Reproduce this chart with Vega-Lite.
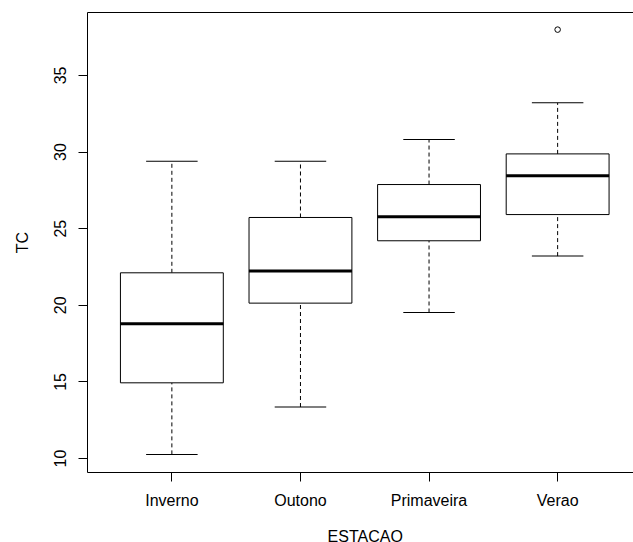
{
  "$schema": "https://vega.github.io/schema/vega-lite/v6.json",
  "width": 546,
  "height": 460,
  "autosize": {"type": "none"},
  "padding": {"left": 87, "top": 12, "right": 0, "bottom": 70},
  "background": "white",
  "config": {
    "view": {"stroke": null},
    "font": "Liberation Sans",
    "axis": {
      "grid": false,
      "domainColor": "black",
      "tickColor": "black",
      "labelColor": "black",
      "titleColor": "black",
      "labelFontSize": 16,
      "titleFontSize": 16,
      "titleFontWeight": "normal",
      "tickSize": 9
    }
  },
  "data": {
    "values": [
      {"ESTACAO": "Inverno", "lower": 10.24, "q1": 14.91, "median": 18.76, "q3": 22.09, "upper": 29.37},
      {"ESTACAO": "Outono", "lower": 13.33, "q1": 20.11, "median": 22.2, "q3": 25.7, "upper": 29.37},
      {"ESTACAO": "Primaveira", "lower": 19.5, "q1": 24.18, "median": 25.74, "q3": 27.85, "upper": 30.79},
      {"ESTACAO": "Verao", "lower": 23.18, "q1": 25.89, "median": 28.42, "q3": 29.85, "upper": 33.18}
    ]
  },
  "layer": [
    {
      "mark": {"type": "rule", "color": "black", "strokeWidth": 1, "strokeDash": [4, 3]},
      "encoding": {
        "x": {"field": "ESTACAO", "type": "nominal", "axis": null,
              "scale": {"type": "band", "range": [0, 555.5], "paddingInner": 0.2, "paddingOuter": 0.26}},
        "y": {"field": "lower", "type": "quantitative", "title": "TC",
              "scale": {"domain": [9.09, 39.11], "nice": false, "zero": false},
              "axis": {"values": [10, 15, 20, 25, 30, 35], "labelAngle": -90, "labelAlign": "center",
                       "labelBaseline": "bottom", "labelPadding": 10, "titlePadding": 22}},
        "y2": {"field": "q1"}
      }
    },
    {
      "mark": {"type": "rule", "color": "black", "strokeWidth": 1, "strokeDash": [4, 3]},
      "encoding": {
        "x": {"field": "ESTACAO", "type": "nominal", "axis": null,
              "scale": {"type": "band", "range": [0, 555.5], "paddingInner": 0.2, "paddingOuter": 0.26}},
        "y": {"field": "q3", "type": "quantitative", "title": "TC"},
        "y2": {"field": "upper"}
      }
    },
    {
      "mark": {"type": "tick", "color": "black", "size": 51.5, "thickness": 1, "opacity": 1},
      "encoding": {
        "x": {"field": "ESTACAO", "type": "nominal", "axis": null,
              "scale": {"type": "band", "range": [0, 555.5], "paddingInner": 0.2, "paddingOuter": 0.26}},
        "y": {"field": "lower", "type": "quantitative", "title": "TC"}
      }
    },
    {
      "mark": {"type": "tick", "color": "black", "size": 51.5, "thickness": 1, "opacity": 1},
      "encoding": {
        "x": {"field": "ESTACAO", "type": "nominal", "axis": null,
              "scale": {"type": "band", "range": [0, 555.5], "paddingInner": 0.2, "paddingOuter": 0.26}},
        "y": {"field": "upper", "type": "quantitative", "title": "TC"}
      }
    },
    {
      "mark": {"type": "bar", "fill": "white", "stroke": "black", "strokeWidth": 1, "width": {"band": 1}},
      "encoding": {
        "x": {"field": "ESTACAO", "type": "nominal", "title": "ESTACAO",
              "scale": {"type": "band", "range": [0, 555.5], "paddingInner": 0.2, "paddingOuter": 0.26},
              "axis": {"orient": "bottom", "labelAngle": 0, "labelPadding": 11, "titlePadding": 20}},
        "y": {"field": "q1", "type": "quantitative", "title": "TC"},
        "y2": {"field": "q3"}
      }
    },
    {
      "mark": {"type": "tick", "color": "black", "size": 103, "thickness": 3, "opacity": 1},
      "encoding": {
        "x": {"field": "ESTACAO", "type": "nominal", "title": null,
              "scale": {"type": "band", "range": [0, 555.5], "paddingInner": 0.2, "paddingOuter": 0.26},
              "axis": {"orient": "top", "labels": false, "ticks": false, "title": null}},
        "y": {"field": "median", "type": "quantitative", "title": "TC"}
      }
    },
    {
      "data": {"values": [{"ESTACAO": "Verao", "TC": 37.96}]},
      "mark": {"type": "point", "shape": "circle", "filled": false, "color": "black", "strokeWidth": 1, "size": 31, "opacity": 1},
      "encoding": {
        "x": {"field": "ESTACAO", "type": "nominal", "axis": null,
              "scale": {"type": "band", "range": [0, 555.5], "paddingInner": 0.2, "paddingOuter": 0.26}},
        "y": {"field": "TC", "type": "quantitative", "title": "TC"}
      }
    }
  ],
  "resolve": {"axis": {"x": "independent"}}
}
